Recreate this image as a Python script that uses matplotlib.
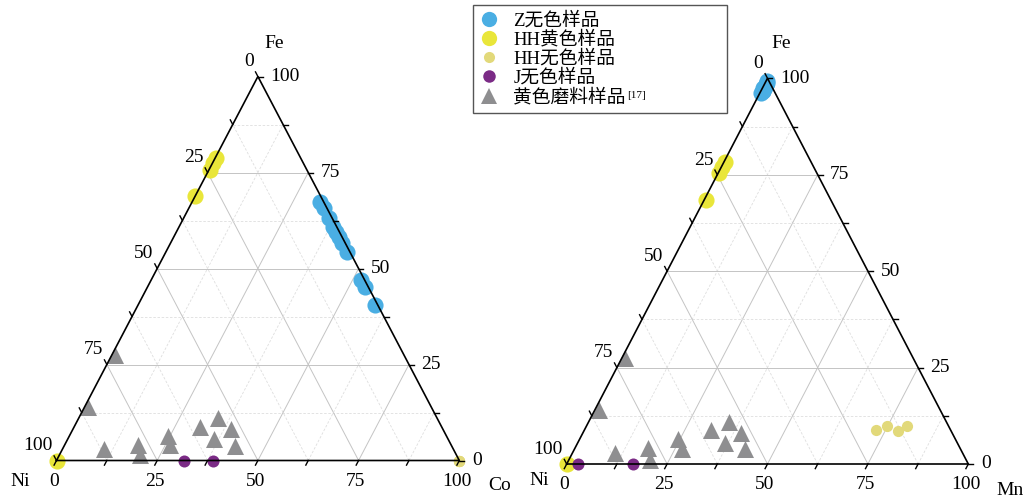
import matplotlib
matplotlib.use('Agg')
import matplotlib.pyplot as plt
from matplotlib.lines import Line2D

plt.rcParams['font.family'] = ['Liberation Serif', 'Noto Sans CJK SC']

# DATA (percent). Ni = 100 - Fe - Co (left) / 100 - Fe - Mn (right)
# --- Fe-Co-Ni ---
z_fe_co = [67.4, 65.7, 63.1, 60.9, 59.6, 58.3, 56.6, 54.4, 47.0, 45.3, 40.5]
z_co = [31.8, 33.5, 36.1, 38.3, 39.6, 40.9, 42.6, 44.8, 52.2, 53.9, 58.7]
hhy_fe_co = [78.8, 77.5, 75.6, 69.0, 0.0]
hhy_co = [0.3, 0.2, 0.2, 0.0, 0.0]
hhc_fe_co = [0.0, 0.0, 0.0, 0.0]
hhc_co = [100.0, 100.0, 100.0, 100.0]
j_fe_co = [0.0, 0.0]
j_co = [31.7, 38.9]
ab_fe_co = [27.5, 14.0, 2.9, 4.0, 1.4, 6.4, 4.0, 8.8, 11.0, 8.1, 5.5, 3.8]
ab_co = [0.8, 0.9, 10.4, 18.2, 20.0, 24.6, 26.2, 31.2, 34.7, 39.3, 36.4, 42.3]

# --- Fe-Mn-Ni ---
z_fe_mn = [98.8, 98.2, 97.8, 97.4, 97.0, 96.6, 96.3, 98.5, 97.6, 96.8, 99.2]
z_mn = [0.4, 0.5, 0.4, 0.3, 0.4, 0.5, 0.3, 0.4, 0.3, 0.5, 0.3]
hhy_fe_mn = [78.2, 77.0, 75.5, 68.5, 0.0]
hhy_mn = [0.2, 0.2, 0.2, 0.4, 0.0]
hhc_fe_mn = [8.8, 9.9, 8.6, 9.9]
hhc_mn = [72.5, 74.7, 78.1, 79.7]
j_fe_mn = [0.0, 0.0]
j_mn = [2.7, 16.4]
ab_fe_mn = [27.4, 14.0, 2.8, 4.1, 1.0, 6.4, 3.8, 8.8, 11.0, 8.0, 5.4, 3.8]
ab_mn = [0.8, 1.0, 10.7, 18.1, 20.2, 24.6, 26.7, 31.5, 34.8, 39.4, 36.7, 42.5]

tick_vals = [0, 25, 50, 75, 100]
labels = ['Z无色样品', 'HH黄色样品', 'HH无色样品', 'J无色样品', '黄色磨料样品']

C_BLUE = '#4aaee3'
C_YEL = '#e9e63a'
C_KHAKI = '#e2d97a'
C_PURP = '#7b2b86'
C_GRAY = '#8e8e90'

W, H = 1029, 501
fig = plt.figure(figsize=(W / 100, H / 100), dpi=100)


def to_xy(fe, x):
    xs = [(b + a / 2) / 100 for a, b in zip(fe, x)]
    ys = [a / 100 for a in fe]
    return xs, ys


def make_axes(bx0, bx1, x0, x1, apex_y, base_y):
    ax = fig.add_axes([bx0 / W, 0, (bx1 - bx0) / W, 1])
    sx = x1 - x0
    sy = base_y - apex_y
    ax.set_xlim((bx0 - x0) / sx, (bx1 - x0) / sx)
    ax.set_ylim((base_y - H) / sy, base_y / sy)
    ax.axis('off')
    return ax


def draw_frame(ax, names, name_offs):
    # grid
    for v in [0.125, 0.25, 0.375, 0.5, 0.625, 0.75, 0.875]:
        major = abs((v * 4) - round(v * 4)) < 1e-9
        kw = dict(color='#c4c4c4', lw=0.7) if major else dict(color='#dedede', lw=0.6, ls=(0, (3, 2)))
        ax.plot([v / 2, 1 - v / 2], [v, v], zorder=1, **kw)              # Fe = v
        ax.plot([v, v + (1 - v) / 2], [0, 1 - v], zorder=1, **kw)        # Co = v
        ax.plot([1 - v, (1 - v) / 2], [0, 1 - v], zorder=1, **kw)        # Ni = v
    # triangle
    ax.plot([0, 1, 0.5, 0], [0, 0, 1, 0], color='black', lw=1.2, zorder=5,
            solid_joinstyle='miter', clip_on=False)
    t = 0.012
    for i in range(9):
        v = i / 8
        # bottom axis
        ax.plot([v, v - 0.5 * t], [0, -t], color='black', lw=1.0, zorder=5, clip_on=False)
        # right axis (Fe)
        ax.plot([1 - v / 2, 1 - v / 2 + t], [v, v], color='black', lw=1.0, zorder=5, clip_on=False)
        # left axis (Ni)
        ax.plot([(1 - v) / 2, (1 - v) / 2 - 0.5 * t], [1 - v, 1 - v + t], color='black', lw=1.0,
                zorder=5, clip_on=False)
    for tv in tick_vals:
        v = tv / 100
        ax.annotate(str(tv), (v, 0), xytext=(-2, -15), textcoords='offset points',
                    ha='center', va='center', fontsize=14)
        ax.annotate(str(tv), (1 - v / 2, v), xytext=(9, 0), textcoords='offset points',
                    ha='left', va='center', fontsize=14)
        ax.annotate(str(tv), ((1 - v) / 2, 1 - v), xytext=(-3, 10.5), textcoords='offset points',
                    ha='right', va='center', fontsize=14)
    pts = [(0.5, 1), (0, 0), (1, 0)]
    for name, p, off in zip(names, pts, name_offs):
        ax.annotate(name, p, xytext=off, textcoords='offset points',
                    ha='center', va='center', fontsize=14)


def draw_points(ax, groups):
    for (fe, x), col, mk, s in groups:
        xs, ys = to_xy(fe, x)
        ax.scatter(xs, ys, s=s, c=col, marker=mk, linewidths=0, zorder=3, clip_on=False)


ax1 = make_axes(0, 514, 56.5, 459.3, 76.5, 460.5)
draw_frame(ax1, ['Fe', 'Ni', 'Co'], [(12, 24), (-26, -15), (29, -18)])
draw_points(ax1, [((z_fe_co, z_co), C_BLUE, 'o', 135),
                  ((hhy_fe_co, hhy_co), C_YEL, 'o', 135),
                  ((hhc_fe_co, hhc_co), C_KHAKI, 'o', 65),
                  ((j_fe_co, j_co), C_PURP, 'o', 75),
                  ((ab_fe_co, ab_co), C_GRAY, '^', 150)])

ax2 = make_axes(514, 1029, 566.7, 968.3, 78.3, 464)
draw_frame(ax2, ['Fe', 'Ni', 'Mn'], [(10, 25), (-20, -12), (30, -19)])
draw_points(ax2, [((z_fe_mn, z_mn), C_BLUE, 'o', 135),
                  ((hhy_fe_mn, hhy_mn), C_YEL, 'o', 135),
                  ((hhc_fe_mn, hhc_mn), C_KHAKI, 'o', 65),
                  ((j_fe_mn, j_mn), C_PURP, 'o', 75),
                  ((ab_fe_mn, ab_mn), C_GRAY, '^', 150)])

handles = [Line2D([], [], ls='none', marker='o', ms=11, color=C_BLUE, mew=0),
           Line2D([], [], ls='none', marker='o', ms=11, color=C_YEL, mew=0),
           Line2D([], [], ls='none', marker='o', ms=8, color=C_KHAKI, mew=0),
           Line2D([], [], ls='none', marker='o', ms=9, color=C_PURP, mew=0),
           Line2D([], [], ls='none', marker='^', ms=11, color=C_GRAY, mew=0)]
leg = fig.legend(handles, labels, loc='upper left', mode='expand',
                 bbox_to_anchor=(473 / W, 1 - 5 / H, 254 / W, 0),
                 borderaxespad=0, fontsize=13.5, frameon=True, fancybox=False,
                 edgecolor='#555555', framealpha=1, labelspacing=0.08, handlelength=1.0,
                 handletextpad=0.8, borderpad=0.35)
leg.get_frame().set_linewidth(1.0)

fig.canvas.draw()
bb = leg.get_texts()[-1].get_window_extent()
fig.text((bb.x1 + 1) / W, (bb.y1 - 3) / H, '[17]', fontsize=8, va='top', ha='left',
         family='Liberation Serif', zorder=10)

fig.savefig('out.png', dpi=100)
